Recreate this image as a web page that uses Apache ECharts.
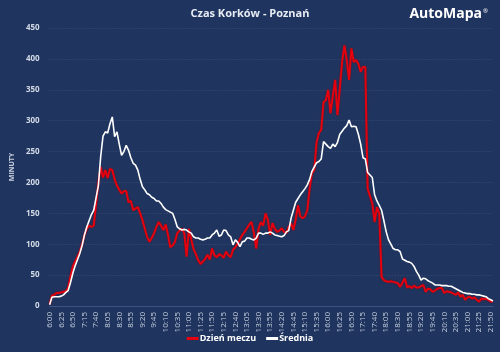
<!DOCTYPE html>
<html><head><meta charset="utf-8">
<script src="https://cdn.jsdelivr.net/npm/echarts@6/dist/echarts.min.js"></script>
<style>html,body{margin:0;padding:0;background:#1f3560;}#c{width:500px;height:352px;}</style>
</head><body><div id="c"></div>
<script>
// categories: 6:00 .. 21:55 every 5 minutes
const categories = [];
for (let h = 6; h <= 21; h++) for (let m = 0; m < 60; m += 5) categories.push(h + ':' + (m < 10 ? '0' : '') + m);

const seriesNames = ['Dzień meczu', 'Średnia'];

// Dzień meczu (match day), per hour 6..21, 12 values each
const matchDay = [
  3,17,18,21,21,22,23,24,30,48,64,72,
  80,88,100,115,125,130,128,130,165,200,225,208,
  220,207,222,220,205,195,188,182,186,186,168,170,
  155,158,160,150,139,125,112,104,110,118,128,136,
  130,123,132,115,95,98,104,118,122,125,118,80,
  125,108,92,84,74,68,72,76,83,75,93,82,
  79,84,82,78,88,82,79,91,95,101,108,115,
  120,126,132,136,118,93,125,136,130,150,140,115,
  134,125,120,122,126,120,118,128,134,123,140,163,
  145,142,145,155,190,215,220,265,280,285,330,333,
  350,312,340,366,309,352,395,422,398,366,417,395,
  398,392,379,387,387,190,178,166,136,160,150,47,
  42,40,39,40,39,38,37,31,38,45,30,32,
  29,33,30,30,32,34,23,28,27,23,25,28,
  29,29,21,24,23,22,20,18,22,15,18,10,
  14,15,12,14,10,7,12,11,12,10,7,8
];

// Średnia (average)
const average = [
  2,14,15,15,15,16,18,22,25,38,53,65,
  75,85,98,115,128,138,148,155,175,195,242,275,
  282,280,295,306,274,282,262,244,250,260,252,240,
  231,228,220,205,193,188,182,180,176,174,170,170,
  166,160,156,154,152,150,140,128,125,123,124,123,
  120,118,112,110,110,108,107,108,110,110,115,118,
  123,113,115,123,122,115,112,99,107,103,96,104,
  105,110,110,108,107,110,118,118,116,118,118,120,
  118,115,114,113,112,114,120,122,142,155,168,174,
  180,185,190,196,205,218,225,232,234,238,266,262,
  258,255,262,258,265,278,283,288,292,301,290,291,
  290,278,262,240,238,216,212,208,180,170,163,155,
  138,120,107,100,93,91,91,88,76,74,72,71,
  69,64,56,50,42,45,44,41,39,37,34,34,
  34,33,33,33,32,32,30,28,26,24,22,21,
  20,20,19,19,18,18,17,16,15,12,10,8
];

const chart = echarts.init(document.getElementById('c'), null, {renderer: 'canvas'});
chart.setOption({
  backgroundColor: '#1f3560',
  animation: false,
  textStyle: {fontFamily: 'Open Sans'},
  title: [
    {text: 'Czas Korków - Poznań', left: 'center', top: 3,
     textStyle: {color: '#e8ecf3', fontSize: 11, fontWeight: 'bold', fontFamily: 'Open Sans'}},
    {text: 'AutoMapa', right: 13, top: 2,
     textStyle: {color: '#ffffff', fontSize: 14, fontWeight: 'bold', fontFamily: 'Open Sans'}},
    {text: '®', right: 7, top: 3,
     textStyle: {color: '#ffffff', fontSize: 6, fontWeight: 'normal', fontFamily: 'Open Sans'}}
  ],
  grid: {left: 43, right: 7, top: 28, bottom: 46, containLabel: false},
  legend: {
    bottom: 4, left: 'center', itemWidth: 12, itemHeight: 3, itemGap: 10,
    icon: 'rect',
    textStyle: {color: '#ffffff', fontSize: 9, fontWeight: 'bold', padding: [0,0,0,-4]},
    data: seriesNames
  },
  xAxis: {
    type: 'category', data: categories, boundaryGap: false,
    axisLine: {lineStyle: {color: '#3d5482'}},
    axisTick: {show: false},
    axisLabel: {interval: 4, rotate: 90, color: '#c9d1de', fontSize: 8, margin: 6},
    splitLine: {show: false}
  },
  yAxis: {
    type: 'value', min: 0, max: 450, interval: 50,
    name: 'MINUTY', nameLocation: 'middle', nameGap: 28, nameRotate: 90,
    nameTextStyle: {color: '#c9d1de', fontSize: 7, fontWeight: 'bold'},
    axisLine: {show: false}, axisTick: {show: false},
    axisLabel: {color: '#d3dae5', fontSize: 8, fontWeight: 'bold', margin: 10},
    splitLine: {lineStyle: {color: 'rgba(255,255,255,0.13)', type: [1,2], width: 1}}
  },
  series: [
    {name: seriesNames[0], type: 'line', data: matchDay, symbol: 'none',
     color: '#e4000e',
     lineStyle: {color: '#e4000e', width: 2, shadowColor: 'rgba(120,0,0,0.6)', shadowBlur: 2}},
    {name: seriesNames[1], type: 'line', data: average, symbol: 'none',
     color: '#ffffff',
     lineStyle: {color: '#ffffff', width: 1.6}}
  ]
});
</script></body></html>
